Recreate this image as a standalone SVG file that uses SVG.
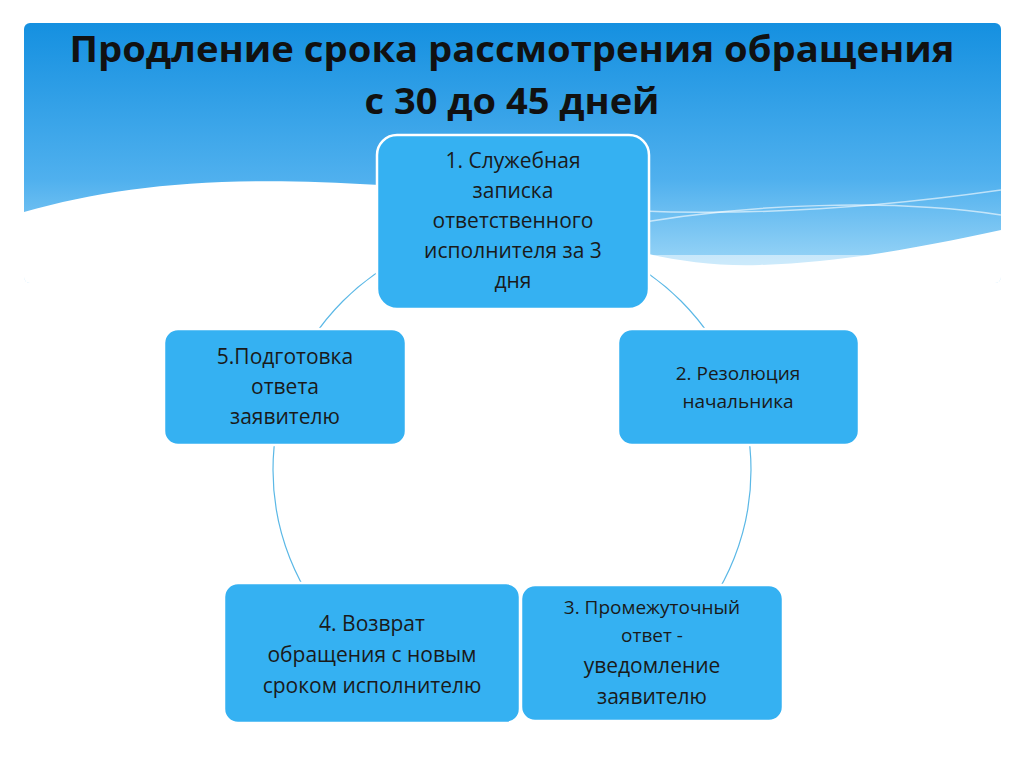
<svg xmlns="http://www.w3.org/2000/svg" width="1024" height="767" viewBox="0 0 1024 767">
<defs>
<linearGradient id="bg" x1="0" y1="0" x2="0" y2="1">
<stop offset="0" stop-color="#1590e0"/>
<stop offset="0.6" stop-color="#4fb0ee"/>
<stop offset="1" stop-color="#a8dcf8"/>
</linearGradient>
<clipPath id="panel"><rect x="24" y="23" width="977" height="260" rx="6"/></clipPath>
<style>
.node{fill:#35b1f2;stroke:#ffffff;stroke-width:2.5}
.t{font-family:"Open Sans","Noto Sans",sans-serif;font-size:21px;fill:#1a1a1a;text-anchor:middle}
.s{font-size:19px}
.title{font-family:"Open Sans","Noto Sans",sans-serif;font-weight:bold;font-size:36px;fill:#111;text-anchor:middle}
</style>
</defs>
<rect width="1024" height="767" fill="#ffffff"/>
<g clip-path="url(#panel)">
<rect x="24" y="23" width="977" height="260" fill="url(#bg)"/>
<path d="M24 212 C120 185 220 175 380 185 C520 200 620 270 760 265 C850 262 930 245 1001 230 L1001 283 L24 283 Z" fill="#ffffff"/>
<path d="M330 190 C500 190 650 240 1001 190" fill="none" stroke="#ffffff" stroke-width="1.5" opacity="0.6"/>
<path d="M600 230 C750 200 900 200 1001 215" fill="none" stroke="#ffffff" stroke-width="1.5" opacity="0.6"/>
<rect x="24" y="255" width="977" height="28" fill="#ffffff" opacity="0.5"/>
</g>
<text class="title" x="512" y="62" textLength="885" lengthAdjust="spacingAndGlyphs">Продление срока рассмотрения обращения</text>
<text class="title" x="512" y="114" textLength="295" lengthAdjust="spacingAndGlyphs">с 30 до 45 дней</text>
<g id="connectors">
<circle cx="512" cy="470" r="239" fill="none" stroke="#5bb8e6" stroke-width="1.2"/>
</g>
<g id="n1">
<rect class="node" x="377" y="135" width="272" height="174" rx="20"/>
<text class="t" x="513" y="168">1. Служебная</text>
<text class="t" x="513" y="198">записка</text>
<text class="t" x="513" y="228">ответственного</text>
<text class="t" x="513" y="258">исполнителя за 3</text>
<text class="t" x="513" y="288">дня</text>
</g>
<g id="n2">
<rect class="node" x="618" y="329" width="241" height="116" rx="14"/>
<text class="t s" x="738" y="380">2. Резолюция</text>
<text class="t s" x="738" y="408">начальника</text>
</g>
<g id="n3">
<rect class="node" x="521" y="585" width="262" height="136" rx="14"/>
<text class="t s" x="652" y="614">3. Промежуточный</text>
<text class="t s" x="652" y="642">ответ -</text>
<text class="t" x="652" y="673">уведомление</text>
<text class="t" x="652" y="704">заявителю</text>
</g>
<g id="n4">
<rect class="node" x="224" y="583" width="296" height="140" rx="14"/>
<text class="t" x="372" y="631">4. Возврат</text>
<text class="t" x="372" y="662">обращения с новым</text>
<text class="t" x="372" y="693">сроком исполнителю</text>
</g>
<g id="n5">
<rect class="node" x="164" y="329" width="242" height="116" rx="14"/>
<text class="t" x="285" y="364">5.Подготовка</text>
<text class="t" x="285" y="394">ответа</text>
<text class="t" x="285" y="424">заявителю</text>
</g>
</svg>
